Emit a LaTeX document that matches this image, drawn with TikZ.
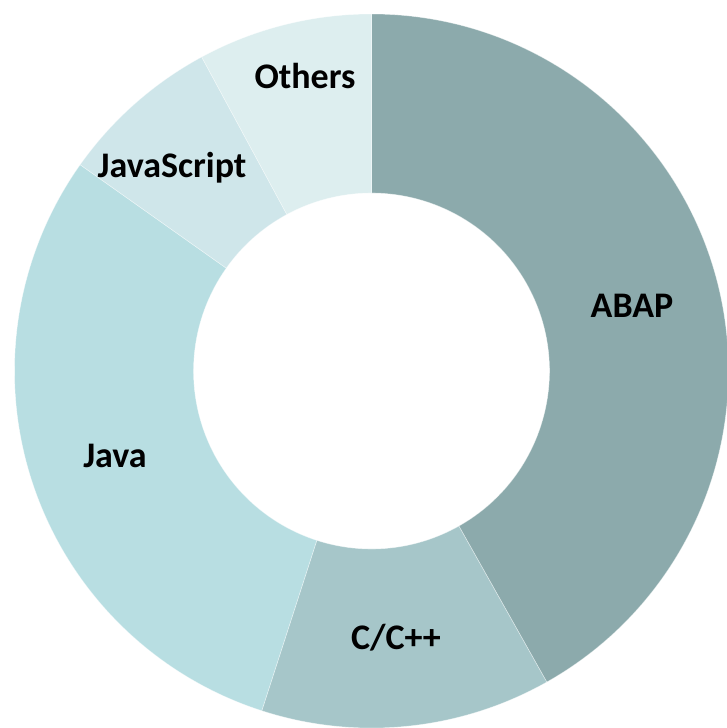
\documentclass[tikz,border=0pt]{standalone}
\usepackage{fontspec}
\setmainfont{Carlito}
\definecolor{cabap}{HTML}{8CAAAC}
\definecolor{ccpp}{HTML}{A6C6C9}
\definecolor{cjava}{HTML}{B8DEE2}
\definecolor{cjs}{HTML}{CFE6EA}
\definecolor{coth}{HTML}{DDEEEF}
\tikzset{
  seg/.style={fill=#1, draw=white, draw opacity=0.45, line width=0.6pt},
  lbl/.style={font=\bfseries\fontsize{36}{40}\selectfont, text=black, anchor=base, inner sep=0pt}
}
\newcommand{\donutseg}[3]{%
  \path[seg=#3] (#1:357) arc[start angle=#1, end angle=#2, radius=357]
    -- (#2:178) arc[start angle=#2, end angle=#1, radius=178] -- cycle;}
\begin{document}
\begin{tikzpicture}[x=1pt,y=1pt]
\useasboundingbox (0,0) rectangle (727,-728);
\begin{scope}[shift={(371.5,-371)}]
\donutseg{90}{-60.6}{cabap}
\donutseg{-60.6}{-107.9}{ccpp}
\donutseg{-107.9}{-215.3}{cjava}
\donutseg{-215.3}{-241.6}{cjs}
\donutseg{-241.6}{-270}{coth}
\end{scope}
\node[lbl] (abap) at (632,-317) {ABAP};
\node[lbl] (cpp) at (396,-649) {C/C++};
\node[lbl] (java) at (115,-467) {Java};
\node[lbl] (js) at (172,-177) {JavaScript};
\node[lbl] (oth) at (305,-88) {Others};
\end{tikzpicture}
\end{document}
